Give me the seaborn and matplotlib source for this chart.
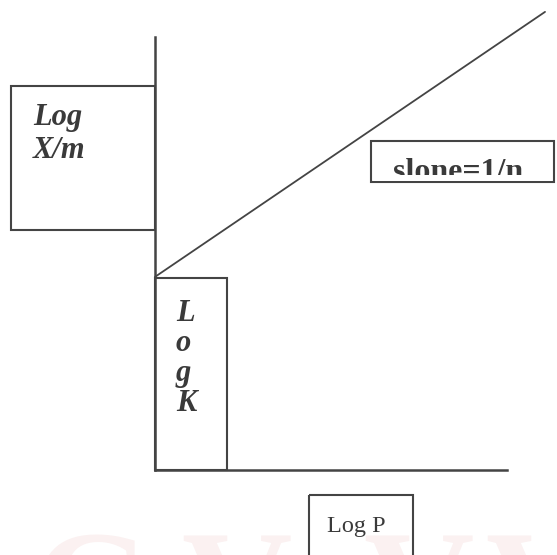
import numpy as np
import matplotlib
matplotlib.use('Agg')
import matplotlib.pyplot as plt
from matplotlib.patches import Rectangle
import seaborn as sns

####
#   Freundlich isotherm sketch: log(x/m) vs log P
####

# schematic data (axis units 0..10)
log_p = [0.0, 11.08]
log_xm = [4.46, 10.58]

# labels
y_label = ['Log', 'X/m']
k_label = ['L', 'o', 'g', 'K']
slope_label = 'slone=1/n'
x_label = 'Log P'

INK = '#444444'
TXT = '#3a3a3a'

sns.set_theme(style='white')
plt.rcParams['font.family'] = ['Liberation Serif', 'DejaVu Serif']

fig = plt.figure(figsize=(5.57, 5.55), dpi=100)

# overlay in pixel coords for the label boxes
ov = fig.add_axes([0, 0, 1, 1])
ov.set_xlim(0, 557)
ov.set_ylim(555, 0)
ov.axis('off')

# faint watermark at the bottom edge (only its top shows)
for ch, xc in zip(['G', 'V', 'V', 'V'], [92, 236, 418, 540]):
    ov.text(xc, 530, ch, fontsize=110, fontweight='bold', color='#fbf1f1',
            ha='center', va='top', zorder=0)

# main axes
ax = fig.add_axes([155 / 557, 85 / 555, 352 / 557, 433 / 555])
ax.patch.set_alpha(0)
sns.lineplot(x=log_p, y=log_xm, ax=ax, color=INK, linewidth=1.3, clip_on=False)
ax.set_xlim(0, 10)
ax.set_ylim(0, 10)
ax.set_xticks([])
ax.set_yticks([])
ax.set_xlabel('')
ax.set_ylabel('')
sns.despine(ax=ax)
for s in ['left', 'bottom']:
    ax.spines[s].set_color(INK)
    ax.spines[s].set_linewidth(1.8)

###
#   boxes and text
###
box = dict(fill=False, edgecolor=INK, linewidth=1.5, zorder=3)
ov.add_patch(Rectangle((11, 86), 144, 144, **box))
ov.add_patch(Rectangle((155, 278), 72, 192, **box))
ov.add_patch(Rectangle((371, 141), 183, 41, **box))
ov.add_patch(Rectangle((309, 495), 104, 80, **box))

for lab, yb in zip(y_label, [125, 158]):
    ov.text(33, yb, lab, fontsize=22, fontweight='bold', fontstyle='italic',
            color=TXT, va='baseline', ha='left', zorder=4)

for lab, yb in zip(k_label, [321, 351, 381, 411]):
    ov.text(176, yb, lab, fontsize=22, fontweight='bold', fontstyle='italic',
            color=TXT, va='baseline', ha='left', zorder=4)

ov.text(393, 180, slope_label, fontsize=23, fontweight='bold',
        color=TXT, va='baseline', ha='left', zorder=4)
# text is cut off above the lower border
ov.add_patch(Rectangle((373, 175), 179, 6, facecolor='white', edgecolor='none', zorder=4.5))

ov.text(327, 532, x_label, fontsize=17.5, color=TXT, va='baseline', ha='left', zorder=4)

fig.savefig('out.png', dpi=100)
